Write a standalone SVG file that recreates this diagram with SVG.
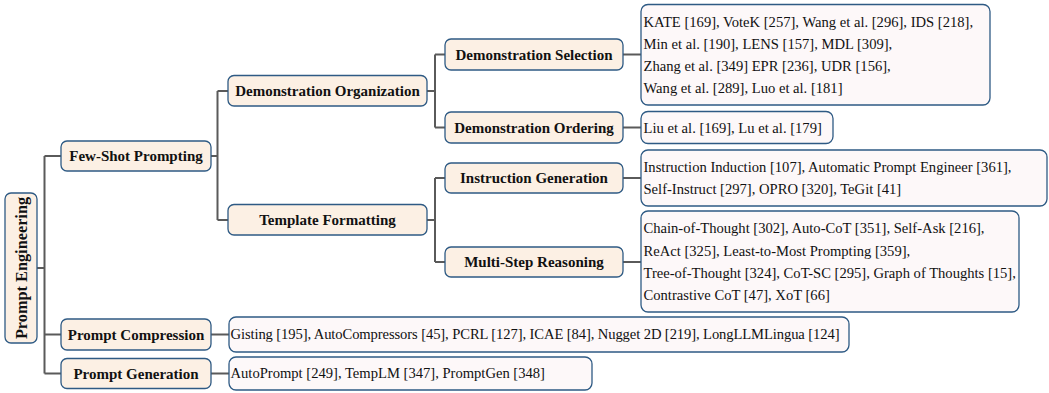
<svg xmlns="http://www.w3.org/2000/svg" width="1049" height="393" viewBox="0 0 1049 393">
  <style>
    .node rect { fill: #fcf0e4; stroke: #2e5a84; stroke-width: 1.3; }
    .leaf rect { fill: #fdf8f9; stroke: #2e5a84; stroke-width: 1.3; }
    .node text { font-family: "Liberation Serif", "DejaVu Serif", serif; font-weight: bold; font-size: 15px; fill: #111; text-anchor: middle; }
    .leaf text { font-family: "Liberation Serif", "DejaVu Serif", serif; font-size: 14.6px; fill: #111; }
    .links path { fill: none; stroke: #5a5a5a; stroke-width: 2; }
  </style>
  <rect width="1049" height="393" fill="#ffffff"/>

  <!-- tree connectors -->
  <g class="links">
    <path d="M37 268 H44.5 M44.5 156 V373.5 M44.5 156 H61 M44.5 334.5 H61 M44.5 373.5 H61"/>
    <path d="M211 156 H217.5 M217.5 91 V220 M217.5 91 H228 M217.5 220 H228"/>
    <path d="M427 91 H435 M435 54.5 V127.5 M435 54.5 H445 M435 127.5 H445"/>
    <path d="M427 220 H435 M435 178 V262 M435 178 H445 M435 262 H445"/>
    <path d="M623 54.5 H641 M623 127.5 H641 M623 178 H641 M623 262 H641 M211 334.5 H229 M211 373.5 H229"/>
  </g>

  <!-- root -->
  <g id="prompt-engineering" class="node">
    <rect x="5" y="193" width="32" height="150" rx="6"/>
    <text transform="translate(26.5 268) rotate(-90)" style="font-size:16.3px">Prompt Engineering</text>
  </g>

  <!-- first level -->
  <g id="few-shot-prompting" class="node">
    <rect x="61" y="141" width="150" height="30" rx="6"/>
    <text x="136" y="161">Few-Shot Prompting</text>
  </g>
  <g id="prompt-compression" class="node">
    <rect x="61" y="319" width="150" height="31" rx="6"/>
    <text x="136" y="339.5">Prompt Compression</text>
  </g>
  <g id="prompt-generation" class="node">
    <rect x="61" y="358.5" width="150" height="30" rx="6"/>
    <text x="136" y="378.5">Prompt Generation</text>
  </g>

  <!-- second level -->
  <g id="demonstration-organization" class="node">
    <rect x="228" y="75.5" width="199" height="30.5" rx="6"/>
    <text x="327.5" y="96">Demonstration Organization</text>
  </g>
  <g id="template-formatting" class="node">
    <rect x="228" y="204.5" width="199" height="30.5" rx="6"/>
    <text x="327.5" y="225">Template Formatting</text>
  </g>

  <!-- third level -->
  <g id="demonstration-selection" class="node">
    <rect x="445" y="39" width="178" height="31" rx="6"/>
    <text x="534" y="59.5">Demonstration Selection</text>
  </g>
  <g id="demonstration-ordering" class="node">
    <rect x="445" y="112" width="178" height="31" rx="6"/>
    <text x="534" y="132.5">Demonstration Ordering</text>
  </g>
  <g id="instruction-generation" class="node">
    <rect x="445" y="163" width="178" height="30" rx="6"/>
    <text x="534" y="183">Instruction Generation</text>
  </g>
  <g id="multi-step-reasoning" class="node">
    <rect x="445" y="247" width="178" height="30" rx="6"/>
    <text x="534" y="267">Multi-Step Reasoning</text>
  </g>

  <!-- leaves -->
  <g id="selection-methods" class="leaf">
    <rect x="641" y="4.5" width="349" height="100.5" rx="7"/>
    <text x="643.5" y="26.5">KATE [169], VoteK [257], Wang et al. [296], IDS [218],</text>
    <text x="643.5" y="48.7">Min et al. [190], LENS [157], MDL [309],</text>
    <text x="643.5" y="70.9">Zhang et al. [349] EPR [236], UDR [156],</text>
    <text x="643.5" y="93.1">Wang et al. [289], Luo et al. [181]</text>
  </g>
  <g id="ordering-methods" class="leaf">
    <rect x="641" y="111.5" width="192" height="32" rx="7"/>
    <text x="643.5" y="133">Liu et al. [169], Lu et al. [179]</text>
  </g>
  <g id="instruction-methods" class="leaf">
    <rect x="641" y="150" width="406" height="56" rx="7"/>
    <text x="643.5" y="171.5">Instruction Induction [107], Automatic Prompt Engineer [361],</text>
    <text x="643.5" y="194">Self-Instruct [297], OPRO [320], TeGit [41]</text>
  </g>
  <g id="reasoning-methods" class="leaf">
    <rect x="641" y="211" width="378" height="101" rx="7"/>
    <text x="643.5" y="233">Chain-of-Thought [302], Auto-CoT [351], Self-Ask [216],</text>
    <text x="643.5" y="255.5">ReAct [325], Least-to-Most Prompting [359],</text>
    <text x="643.5" y="278">Tree-of-Thought [324], CoT-SC [295], Graph of Thoughts [15],</text>
    <text x="643.5" y="300">Contrastive CoT [47], XoT [66]</text>
  </g>
  <g id="compression-methods" class="leaf">
    <rect x="229" y="317" width="620" height="35" rx="7"/>
    <text x="230.5" y="339" textLength="609" lengthAdjust="spacing">Gisting [195], AutoCompressors [45], PCRL [127], ICAE [84], Nugget 2D [219], LongLLMLingua [124]</text>
  </g>
  <g id="generation-methods" class="leaf">
    <rect x="229" y="357" width="363" height="33" rx="7"/>
    <text x="230.5" y="378">AutoPrompt [249], TempLM [347], PromptGen [348]</text>
  </g>
</svg>
